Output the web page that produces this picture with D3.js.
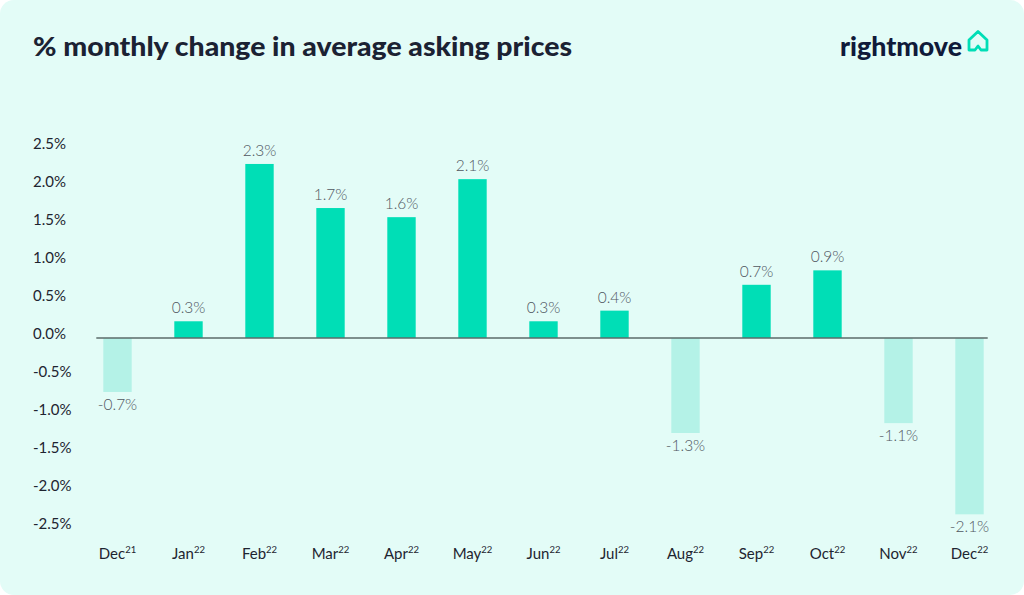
<!DOCTYPE html>
<html>
<head>
<meta charset="utf-8">
<script src="https://cdnjs.cloudflare.com/ajax/libs/d3/7.8.5/d3.min.js"></script>
<style>
  body { margin: 0; background: #ffffff; }
  svg { display: block; }
</style>
</head>
<body>
<div id="chart"></div>
<script>
var width = 1024,
    height = 595;

// months with their year shown as superscript
var months = ["Dec", "Jan", "Feb", "Mar", "Apr", "May", "Jun", "Jul", "Aug", "Sep", "Oct", "Nov", "Dec"];
var years = ["21", "22", "22", "22", "22", "22", "22", "22", "22", "22", "22", "22", "22"];
// bar heights as drawn, and the labels printed above/below them
var values = [-0.71, 0.22, 2.29, 1.71, 1.59, 2.09, 0.22, 0.36, -1.25, 0.70, 0.89, -1.12, -2.32];
var valueLabels = ["-0.7%", "0.3%", "2.3%", "1.7%", "1.6%", "2.1%", "0.3%", "0.4%", "-1.3%", "0.7%", "0.9%", "-1.1%", "-2.1%"];
var yTicks = [2.5, 2.0, 1.5, 1.0, 0.5, 0.0, -0.5, -1.0, -1.5, -2.0, -2.5];

var svg = d3.select("#chart").append("svg")
    .attr("width", width)
    .attr("height", height);

svg.append("rect")
    .attr("width", width)
    .attr("height", height)
    .attr("rx", 14)
    .attr("fill", "#e3fcf7");

svg.append("text")
    .attr("x", 33)
    .attr("y", 56)
    .attr("font-family", "Lato, sans-serif")
    .attr("font-weight", 900)
    .attr("font-size", 26.5)
    .attr("fill", "#1b2233")
    .attr("textLength", 539)
    .attr("lengthAdjust", "spacingAndGlyphs")
    .text("% monthly change in average asking prices");

// logo
svg.append("text")
    .attr("x", 840)
    .attr("y", 56)
    .attr("font-family", "Lato, sans-serif")
    .attr("font-weight", 900)
    .attr("font-size", 27)
    .attr("fill", "#101a3a")
    .attr("textLength", 122)
    .attr("lengthAdjust", "spacingAndGlyphs")
    .text("rightmove");

svg.append("path")
    .attr("d", "M969,50 L969,40 L978,31.5 L987,40 L987,50 L981,50 L978,46 L975,50 Z")
    .attr("fill", "none")
    .attr("stroke", "#00deb6")
    .attr("stroke-width", 2.8)
    .attr("stroke-linejoin", "round");

var x = d3.scaleBand()
    .domain(d3.range(months.length))
    .range([82, 1005])
    .paddingInner(0.6)
    .paddingOuter(0.3);

var y = d3.scaleLinear()
    .domain([-2.5, 2.5])
    .range([528, 148]);

// y tick labels
svg.selectAll(".ytick")
    .data(yTicks)
    .enter()
    .append("text")
    .attr("x", 33)
    .attr("y", function(d) { return y(d) + 0.5; })
    .attr("font-family", "Lato, sans-serif")
    .attr("font-size", 15)
    .attr("fill", "#1e2430")
    .text(function(d) { return d.toFixed(1) + "%"; });

var barColor = function(d) { return d >= 0 ? "#00deb6" : "#b4f2e7"; };

svg.selectAll(".bar")
    .data(values)
    .enter()
    .append("rect")
    .attr("x", function(d, i) { return x(i); })
    .attr("y", function(d) { return y(Math.max(0, d)); })
    .attr("width", x.bandwidth())
    .attr("height", function(d) { return Math.abs(y(d) - y(0)); })
    .attr("fill", barColor);

// zero line
svg.append("line")
    .attr("x1", x(0) - 7)
    .attr("x2", x(months.length - 1) + x.bandwidth() + 4)
    .attr("y1", y(0))
    .attr("y2", y(0))
    .attr("stroke", "#5b6b6a")
    .attr("stroke-width", 1.5);

svg.selectAll(".vlabel")
    .data(values)
    .enter()
    .append("text")
    .attr("x", function(d, i) { return x(i) + x.bandwidth() / 2; })
    .attr("y", function(d) { return d >= 0 ? y(d) - 8 : y(d) + 18; })
    .attr("text-anchor", "middle")
    .attr("font-family", "Lato, sans-serif")
    .attr("font-weight", 300)
    .attr("font-size", 15.5)
    .attr("fill", "#50565f")
    .text(function(d, i) { return valueLabels[i]; });

var xl = svg.selectAll(".xlabel")
    .data(months)
    .enter()
    .append("text")
    .attr("x", function(d, i) { return x(i) + x.bandwidth() / 2; })
    .attr("y", 559)
    .attr("text-anchor", "middle")
    .attr("font-family", "Lato, sans-serif")
    .attr("font-size", 15)
    .attr("fill", "#1e2430");

xl.append("tspan").text(function(d) { return d; });
xl.append("tspan")
    .attr("font-size", 9.5)
    .attr("dy", -6)
    .text(function(d, i) { return years[i]; });
</script>
</body>
</html>
